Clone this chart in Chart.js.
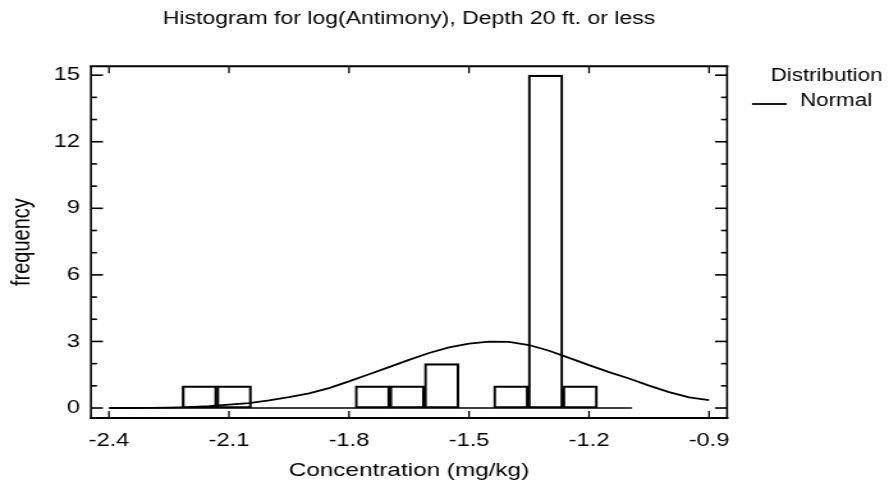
<!DOCTYPE html>
<html>
<head>
<meta charset="utf-8">
<script src="https://cdn.jsdelivr.net/npm/chart.js@4.4.1/dist/chart.umd.min.js"></script>
<style>
  html, body { margin: 0; padding: 0; background: #fff; }
</style>
</head>
<body>
<!-- the reference is stretched sideways, so the canvas is drawn narrower and widened by css -->
<canvas id="c" width="695" height="489" style="display:block;width:889px;height:489px"></canvas>
<script>
var chartTitle = 'Histogram for log(Antimony), Depth 20 ft. or less';
var xTitle = 'Concentration (mg/kg)';
var yTitle = 'frequency';
var legendTitle = 'Distribution';
var curveLabel = 'Normal';

// histogram
var binEdges = [-2.39, -2.3035, -2.217, -2.1305, -2.044, -1.9575, -1.871, -1.7845, -1.698, -1.6115, -1.525, -1.4385, -1.352, -1.2655, -1.179, -1.0925];
var binCounts = [0, 0, 1, 1, 0, 0, 0, 1, 1, 2, 0, 1, 15, 1, 0];

// fitted normal curve
var curveX = [-2.40, -2.35, -2.30, -2.25, -2.20, -2.15, -2.10, -2.05, -2.00, -1.95, -1.90, -1.85, -1.80, -1.75, -1.70, -1.65,
              -1.60, -1.55, -1.50, -1.45, -1.40, -1.35, -1.30, -1.25, -1.20, -1.15, -1.10, -1.05, -1.00, -0.95, -0.90];
var curveY = [0.00, 0.00, 0.01, 0.02, 0.04, 0.08, 0.15, 0.22, 0.34, 0.49, 0.66, 0.90, 1.20, 1.52, 1.84, 2.17,
              2.48, 2.73, 2.90, 2.99, 2.98, 2.84, 2.58, 2.26, 1.93, 1.62, 1.33, 1.01, 0.72, 0.48, 0.36];

var xTickValues = [-2.4, -2.1, -1.8, -1.5, -1.2, -0.9];
var yTickValues = [0, 3, 6, 9, 12, 15];
var yMinorTicks = [1, 2, 4, 5, 7, 8, 10, 11, 13, 14];

var S = 889 / 695; // horizontal stretch of the page

var bars = binCounts.map(function (c, i) {
    return { x: (binEdges[i] + binEdges[i + 1]) / 2, y: c };
});
var baseLine = [{ x: binEdges[0], y: 0 }, { x: binEdges[binEdges.length - 1], y: 0 }];
var curve = curveX.map(function (x, i) { return { x: x, y: curveY[i] }; });

// frame, inward ticks and the legend
var frameTicks = {
    id: 'frameTicks',
    afterDraw: function (chart) {
        var ctx = chart.ctx, a = chart.chartArea;
        var xs = chart.scales.x, ys = chart.scales.y;
        function line(x1, y1, x2, y2) {
            ctx.beginPath(); ctx.moveTo(x1, y1); ctx.lineTo(x2, y2); ctx.stroke();
        }
        ctx.save();
        ctx.strokeStyle = '#000';
        ctx.lineWidth = 1.3;
        xs.ticks.forEach(function (t) {
            var p = xs.getPixelForValue(t.value);
            line(p, a.bottom, p, a.bottom - 7);
            line(p, a.top, p, a.top + 7);
        });
        ctx.lineWidth = 1.6;
        ys.ticks.forEach(function (t) {
            var p = ys.getPixelForValue(t.value);
            line(a.left, p, a.left + 12 / S, p);
            line(a.right, p, a.right - 12 / S, p);
        });
        yMinorTicks.forEach(function (v) {
            var p = ys.getPixelForValue(v);
            line(a.left, p, a.left + 6 / S, p);
            line(a.right, p, a.right - 6 / S, p);
        });
        ctx.lineWidth = 2;
        line(a.left - 1, a.top, a.right + 1, a.top);
        line(a.left - 1, a.bottom, a.right + 1, a.bottom);
        ctx.lineWidth = 1.6;
        line(a.left, a.top, a.left, a.bottom);
        line(a.right, a.top, a.right, a.bottom);

        // legend
        ctx.fillStyle = '#000';
        ctx.font = '17.5px "Liberation Sans", Arial, sans-serif';
        ctx.textAlign = 'left';
        ctx.textBaseline = 'alphabetic';
        ctx.fillText(legendTitle, a.right + 34, 81);
        ctx.lineWidth = 1.8;
        line(a.right + 19.5, 104, a.right + 46.5, 104);
        ctx.fillText(curveLabel, a.right + 57, 106);
        ctx.restore();
    }
};

Chart.defaults.font.family = '"Liberation Sans", Arial, sans-serif';
Chart.defaults.color = '#000';

new Chart(document.getElementById('c'), {
    type: 'bar',
    data: {
        datasets: [{
            type: 'line',
            label: curveLabel,
            data: curve,
            borderColor: '#000',
            borderWidth: 1.8,
            pointRadius: 0,
            tension: 0,
            fill: false
        }, {
            type: 'line',
            label: 'base',
            data: baseLine,
            borderColor: '#000',
            borderWidth: 1.6,
            pointRadius: 0,
            fill: false
        }, {
            type: 'bar',
            label: yTitle,
            data: bars,
            backgroundColor: 'rgba(0,0,0,0)',
            borderColor: '#000',
            borderWidth: 1.5,
            borderSkipped: false,
            barPercentage: 1,
            categoryPercentage: 1,
            grouped: false
        }]
    },
    options: {
        responsive: false,
        animation: false,
        events: [],
        layout: { padding: { left: 0, right: 126.6, top: 0, bottom: 0 } },
        plugins: {
            legend: { display: false },
            tooltip: { enabled: false },
            title: {
                display: true,
                text: chartTitle,
                fullSize: false,
                color: '#000',
                font: { size: 18, weight: 'normal' },
                padding: { top: 8.7, bottom: 36 }
            }
        },
        scales: {
            x: {
                type: 'linear',
                offset: false,
                min: -2.445,
                max: -0.855,
                grid: { display: false, drawTicks: false, offset: false },
                border: { display: false },
                afterBuildTicks: function (s) { s.ticks = xTickValues.map(function (v) { return { value: v }; }); },
                ticks: {
                    color: '#000',
                    font: { size: 18.5 },
                    padding: 12,
                    maxRotation: 0,
                    autoSkip: false,
                    callback: function (v) { return v.toFixed(1); }
                },
                title: { display: true, text: xTitle, color: '#000', font: { size: 19 }, padding: { top: 0, bottom: 6.5 } },
                afterFit: function (s) { s.height = 71; }
            },
            y: {
                type: 'linear',
                min: -0.45,
                max: 15.4,
                grid: { display: false, drawTicks: false },
                border: { display: false },
                afterBuildTicks: function (s) { s.ticks = yTickValues.map(function (v) { return { value: v }; }); },
                ticks: {
                    color: '#000',
                    font: { size: 18.5 },
                    padding: 8.6,
                    autoSkip: false,
                    callback: function (v) { return String(v); }
                },
                title: { display: true, text: yTitle, color: '#000', font: { size: 20 }, padding: { top: 5.5, bottom: 0 } },
                afterFit: function (s) { s.width = 71.1; }
            }
        }
    },
    plugins: [frameTicks]
});
</script>
</body>
</html>
